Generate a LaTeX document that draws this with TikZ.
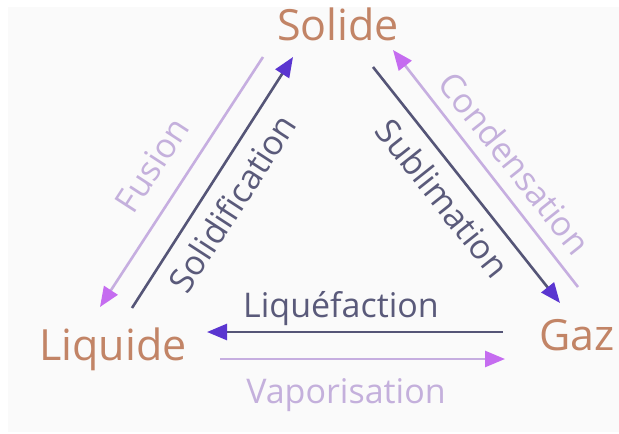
\documentclass[tikz,border=0pt]{standalone}
\usepackage{fontspec}
\setmainfont{Open Sans}
\usetikzlibrary{arrows.meta}
\definecolor{phasec}{HTML}{C28466}
\definecolor{darktext}{HTML}{5A5A7A}
\definecolor{lighttext}{HTML}{C4B0DC}
\definecolor{darkline}{HTML}{555577}
\definecolor{lightline}{HTML}{C6AEE0}
\definecolor{darktip}{HTML}{5A35D0}
\definecolor{lighttip}{HTML}{C56CF0}
\definecolor{bgc}{HTML}{FAFAFA}
\tikzset{
  phase/.style={text=phasec, inner sep=0pt, anchor=base, font=\fontsize{43}{50}\selectfont},
  darklabel/.style={text=darktext, inner sep=0pt, font=\fontsize{34}{40}\selectfont},
  lightlabel/.style={text=lighttext, inner sep=0pt, font=\fontsize{34}{40}\selectfont},
  darkarrow/.style={draw=darkline, line width=2.6pt, -{Triangle[length=20pt,width=16pt,color=darktip,fill=darktip]}},
  lightarrow/.style={draw=lightline, line width=2.6pt, -{Triangle[length=20pt,width=16pt,color=lighttip,fill=lighttip]}}
}
\begin{document}
\begin{tikzpicture}[x=1pt,y=-1pt]
\useasboundingbox (0,0) rectangle (619,434);
\fill[white] (0,0) rectangle (619,434);
\fill[bgc] (8,7) rectangle (619,432);

\node[phase] (solide) at (338,40) {Solide};
\node[phase] (liquide) at (113,360) {Liquide};
\node[phase] (gaz) at (577,350) {Gaz};

% end points
\coordinate (fusA) at (263,57);
\coordinate (fusB) at (100,307);
\coordinate (solA) at (132,308);
\coordinate (solB) at (293,57);
\coordinate (subA) at (373,67);
\coordinate (subB) at (560,303);
\coordinate (conA) at (578,287);
\coordinate (conB) at (393,50);
\coordinate (liqA) at (503,332);
\coordinate (liqB) at (207,332);
\coordinate (vapA) at (220,359);
\coordinate (vapB) at (505,359);

\draw[lightarrow] (fusA) -- (fusB);
\draw[darkarrow] (solA) -- (solB);
\draw[darkarrow] (subA) -- (subB);
\draw[lightarrow] (conA) -- (conB);
\draw[darkarrow] (liqA) -- (liqB);
\draw[lightarrow] (vapA) -- (vapB);

\node[lightlabel, rotate=57] (fusion) at (152,165) {Fusion};
\node[darklabel, rotate=57] (solidif) at (232,203) {Solidification};
\node[darklabel, rotate=-51.5] (sublim) at (443,198) {Sublimation};
\node[lightlabel, rotate=-51.5] (conden) at (515,163) {Condensation};
\node[darklabel, anchor=base] (liquef) at (341,317) {Liquéfaction};
\node[lightlabel, anchor=base] (vapor) at (346,403) {Vaporisation};
\end{tikzpicture}
\end{document}
